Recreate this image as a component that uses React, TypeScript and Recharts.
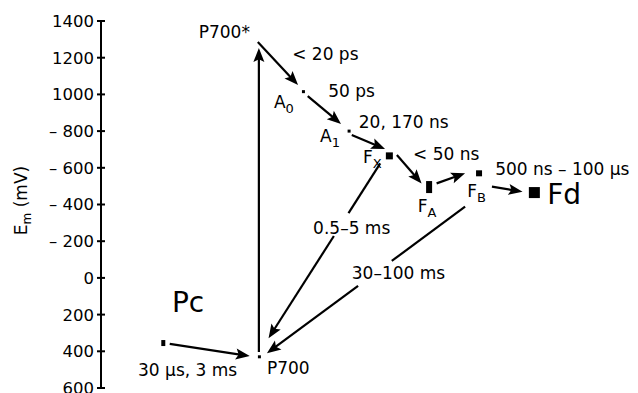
import { ScatterChart, Scatter, XAxis, YAxis, ReferenceLine } from "recharts";

const FONT = "'DejaVu Sans', sans-serif";

const yTicks = [-1400, -1200, -1000, -800, -600, -400, -200, 0, 200, 400, 600];
const yTickLabels = ["1400", "1200", "1000", "– 800", "– 600", "– 400", "– 200", "0", "200", "400", "600"];

// carriers: slot along the scheme (0-100) and midpoint potential in mV
const carriers = [
  { name: "Pc", x: 11.6, em: 355 },
  { name: "P700", x: 29.5, em: 430 },
  { name: "A0", x: 37.7, em: -1015 },
  { name: "A1", x: 46.2, em: -800 },
  { name: "FX", x: 53.7, em: -665 },
  { name: "FA", x: 61.1, em: -495 },
  { name: "FB", x: 70.4, em: -570 },
  { name: "Fd", x: 80.7, em: -465 },
];

// electron transfer arrows (start -> end)
const transfers = [
  { id: "hv", from: [29.4, 404], to: [29.4, -1253] },
  { id: "p-a0", from: [29.2, -1286], to: [36.7, -1051] },
  { id: "a0-a1", from: [38.5, -991], to: [44.7, -839] },
  { id: "a1-fx", from: [46.7, -779], to: [52.9, -702] },
  { id: "fx-fa", from: [55.1, -670], to: [59.7, -515] },
  { id: "fa-fb", from: [62.5, -515], to: [67.8, -570] },
  { id: "fb-fd", from: [72.8, -497], to: [78.5, -470] },
  { id: "fx-p700", from: [52.0, -624], to: [31.2, 329] },
  { id: "fb-p700", from: [67.8, -388], to: [30.9, 411] },
  { id: "pc-p700", from: [12.8, 360], to: [27.7, 426] },
];

// text annotations: left edge / baseline in chart units
const labels = [
  { text: "P700*", x: 18.2, em: -1307 },
  { text: "< 20 ps", x: 35.6, em: -1187 },
  { text: "A", sub: "0", x: 32.2, em: -926 },
  { text: "50 ps", x: 42.3, em: -986 },
  { text: "A", sub: "1", x: 40.8, em: -741 },
  { text: "20, 170 ns", x: 48.0, em: -817 },
  { text: "F", sub: "X", x: 48.8, em: -626 },
  { text: "< 50 ns", x: 58.1, em: -642 },
  { text: "500 ns – 100 µs", x: 73.4, em: -561 },
  { text: "F", sub: "A", x: 59.0, em: -359 },
  { text: "F", sub: "B", x: 68.2, em: -441 },
  { text: "Fd", x: 83.1, em: -403, big: true },
  { text: "Pc", x: 13.2, em: 186, big: true },
  { text: "30 µs, 3 ms", x: 6.9, em: 535 },
  { text: "P700", x: 30.9, em: 524 },
  { text: "0.5–5 ms", x: 39.5, em: -239 },
  { text: "30–100 ms", x: 46.7, em: 6 },
];

const markSize: Record<string, [number, number]> = {
  Pc: [4, 6], P700: [3, 3], A0: [3, 3], A1: [3, 3],
  FX: [7, 7], FA: [6, 12], FB: [6, 6], Fd: [11, 11],
};

// where the long back-reaction lines break for their labels
const breaks: Record<string, [number, number]> = {
  "fx-p700": [0.284, 0.415],
  "fb-p700": [0.37, 0.54],
};

const AXIS_X = 101;

function EmTick(props: any) {
  const { y, payload } = props;
  const i = yTicks.indexOf(payload.value);
  return (
    <g>
      <line x1={AXIS_X - 4} x2={AXIS_X + 4} y1={y} y2={y} stroke="#000" strokeWidth={2} />
      <text x={AXIS_X - 7} y={y} dy="0.36em" textAnchor="end" fontSize={16.5} fontFamily={FONT} fill="#000">
        {yTickLabels[i]}
      </text>
    </g>
  );
}

function EmLabel(props: any) {
  const vb = props.viewBox;
  const cx = 27;
  const cy = vb.y + vb.height / 2 - 4;
  return (
    <text x={cx} y={cy} transform={`rotate(-90, ${cx}, ${cy})`} textAnchor="middle" fontSize={17} fontFamily={FONT} fill="#000">
      E<tspan fontSize={12} dy={4}>m</tspan>
      <tspan dy={-4}> (mV)</tspan>
    </text>
  );
}

function CarrierMark(props: any) {
  const { cx, cy, payload } = props;
  const [w, h] = markSize[payload.name];
  return <rect x={cx - w / 2} y={cy - h / 2} width={w} height={h} fill="#000" />;
}

function TextMark(props: any) {
  const { cx, cy, payload } = props;
  const size = payload.big ? 28 : 17;
  return (
    <text x={cx} y={cy} fontSize={size} fontFamily={FONT} fill="#000">
      {payload.text}
      {payload.sub && (
        <tspan fontSize={13} dy={5}>{payload.sub}</tspan>
      )}
    </text>
  );
}

function arrowShape(id: string) {
  return (p: any) => {
    const { x1, y1, x2, y2 } = p;
    const dx = x2 - x1;
    const dy = y2 - y1;
    const len = Math.hypot(dx, dy);
    const ux = dx / len;
    const uy = dy / len;
    const head = 14;
    const half = 5.5;
    const bx = x2 - ux * head;
    const by = y2 - uy * head;
    const nx = x2 - ux * head * 0.8;
    const ny = y2 - uy * head * 0.8;
    const px = -uy;
    const py = ux;
    const pts = `${x2},${y2} ${bx + px * half},${by + py * half} ${nx},${ny} ${bx - px * half},${by - py * half}`;
    const endT = (len - head * 0.7) / len;
    const gap = breaks[id];
    const segs = gap ? [[0, gap[0]], [gap[1], endT]] : [[0, endT]];
    return (
      <g>
        {segs.map(([a, b], k) => (
          <line key={k} x1={x1 + dx * a} y1={y1 + dy * a} x2={x1 + dx * b} y2={y1 + dy * b} stroke="#000" strokeWidth={2.2} />
        ))}
        <polygon points={pts} fill="#000" />
      </g>
    );
  };
}

export default function App() {
  return (
    <div>
      <style>{"body{margin:0}"}</style>
      <ScatterChart width={638} height={393} margin={{ top: 21, right: 0, bottom: 5, left: 0 }}>
        <XAxis type="number" dataKey="x" domain={[0, 100]} hide />
        <YAxis
          type="number"
          dataKey="em"
          domain={[-1400, 600]}
          reversed
          ticks={yTicks}
          interval={0}
          width={101}
          tickLine={false}
          axisLine={{ stroke: "#000", strokeWidth: 2 }}
          tick={<EmTick />}
          label={{ content: <EmLabel /> }}
        />
        {transfers.map((t) => (
          <ReferenceLine
            key={t.id}
            segment={[{ x: t.from[0], y: t.from[1] }, { x: t.to[0], y: t.to[1] }]}
            shape={arrowShape(t.id)}
          />
        ))}
        <Scatter data={carriers} shape={<CarrierMark />} isAnimationActive={false} />
        <Scatter data={labels} shape={<TextMark />} isAnimationActive={false} />
      </ScatterChart>
    </div>
  );
}
